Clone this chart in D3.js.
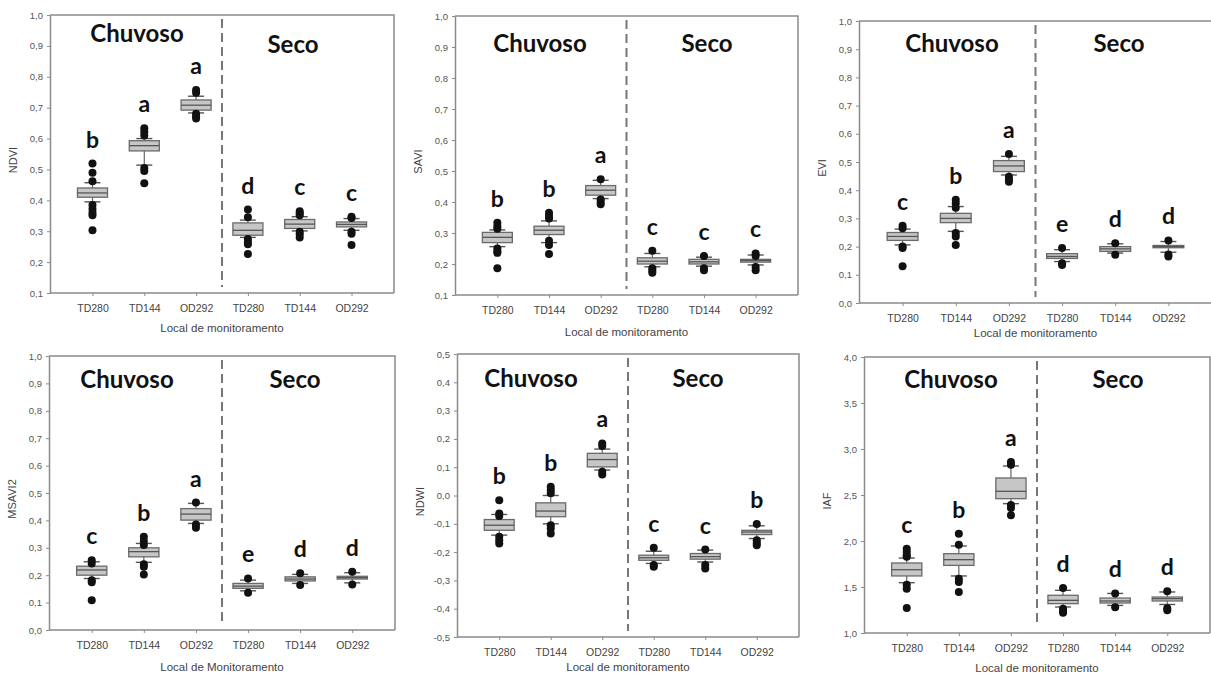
<!DOCTYPE html>
<html>
<head>
<meta charset="utf-8">
<script src="https://cdn.jsdelivr.net/npm/d3@7"></script>
<style>
  html, body { margin: 0; padding: 0; background: #fff; }
  svg { display: block; }
</style>
</head>
<body>
<svg id="chart" width="1211" height="675"></svg>
<script>
// Monitoring sites, repeated for the rainy (Chuvoso) and dry (Seco) season
const sites = ["TD280", "TD144", "OD292", "TD280", "TD144", "OD292"];
const seasons = ["Chuvoso", "Seco"];

// Box statistics per site: [lower whisker, Q1, median, Q3, upper whisker]
const ndviStats = [
  [0.395, 0.410, 0.424, 0.440, 0.457],
  [0.514, 0.560, 0.577, 0.593, 0.600],
  [0.683, 0.692, 0.708, 0.725, 0.737],
  [0.280, 0.287, 0.303, 0.327, 0.336],
  [0.301, 0.309, 0.323, 0.338, 0.347],
  [0.303, 0.314, 0.322, 0.330, 0.341]
];
const ndviOutliers = [
  [0.519, 0.489, 0.462, 0.385, 0.372, 0.360, 0.352, 0.303],
  [0.633, 0.622, 0.610, 0.505, 0.495, 0.455],
  [0.757, 0.748, 0.680, 0.672, 0.665],
  [0.370, 0.345, 0.275, 0.265, 0.258, 0.226],
  [0.365, 0.358, 0.352, 0.298, 0.290, 0.280],
  [0.347, 0.343, 0.298, 0.292, 0.255]
];
const ndviLetters = ["b", "a", "a", "d", "c", "c"];

const saviStats = [
  [0.256, 0.269, 0.286, 0.302, 0.310],
  [0.269, 0.295, 0.309, 0.322, 0.339],
  [0.411, 0.422, 0.438, 0.453, 0.470],
  [0.191, 0.200, 0.209, 0.220, 0.234],
  [0.193, 0.200, 0.207, 0.215, 0.222],
  [0.197, 0.206, 0.211, 0.215, 0.229]
];
const saviOutliers = [
  [0.333, 0.322, 0.314, 0.250, 0.240, 0.236, 0.186],
  [0.365, 0.355, 0.347, 0.275, 0.261, 0.232],
  [0.473, 0.408, 0.400, 0.393],
  [0.243, 0.186, 0.178, 0.172],
  [0.226, 0.186, 0.180],
  [0.234, 0.226, 0.190, 0.180]
];
const saviLetters = ["b", "b", "a", "c", "c", "c"];

const eviStats = [
  [0.206, 0.222, 0.236, 0.250, 0.262],
  [0.254, 0.285, 0.300, 0.318, 0.342],
  [0.454, 0.466, 0.486, 0.505, 0.520],
  [0.147, 0.158, 0.165, 0.175, 0.189],
  [0.177, 0.183, 0.192, 0.200, 0.210],
  [0.180, 0.196, 0.200, 0.204, 0.218]
];
const eviOutliers = [
  [0.274, 0.265, 0.200, 0.195, 0.130],
  [0.366, 0.354, 0.338, 0.248, 0.236, 0.206],
  [0.528, 0.448, 0.438, 0.430],
  [0.195, 0.141, 0.135],
  [0.212, 0.171],
  [0.222, 0.172, 0.165]
];
const eviLetters = ["c", "b", "a", "e", "d", "d"];

const msavi2Stats = [
  [0.188, 0.200, 0.219, 0.233, 0.249],
  [0.247, 0.267, 0.286, 0.300, 0.316],
  [0.389, 0.401, 0.423, 0.443, 0.462],
  [0.143, 0.152, 0.160, 0.170, 0.182],
  [0.170, 0.179, 0.186, 0.194, 0.203],
  [0.172, 0.186, 0.191, 0.196, 0.209]
];
const msavi2Outliers = [
  [0.255, 0.243, 0.182, 0.174, 0.109],
  [0.340, 0.325, 0.310, 0.240, 0.231, 0.203],
  [0.465, 0.385, 0.373],
  [0.188, 0.136],
  [0.207, 0.164],
  [0.213, 0.166]
];
const msavi2Letters = ["c", "b", "a", "e", "d", "d"];

const ndwiStats = [
  [-0.140, -0.123, -0.105, -0.085, -0.067],
  [-0.100, -0.075, -0.055, -0.026, 0.000],
  [0.090, 0.101, 0.127, 0.149, 0.164],
  [-0.240, -0.229, -0.220, -0.211, -0.197],
  [-0.235, -0.225, -0.216, -0.205, -0.193],
  [-0.152, -0.138, -0.129, -0.123, -0.107]
];
const ndwiOutliers = [
  [-0.017, -0.064, -0.072, -0.146, -0.158, -0.170],
  [0.031, 0.019, 0.008, -0.105, -0.117, -0.134],
  [0.184, 0.175, 0.084, 0.074],
  [-0.185, -0.246, -0.252],
  [-0.191, -0.246, -0.258],
  [-0.101, -0.158, -0.168, -0.176]
];
const ndwiLetters = ["b", "b", "a", "c", "c", "b"];

const iafStats = [
  [1.547, 1.620, 1.688, 1.761, 1.815],
  [1.620, 1.735, 1.797, 1.862, 1.946],
  [2.406, 2.460, 2.540, 2.685, 2.815],
  [1.283, 1.319, 1.355, 1.410, 1.464],
  [1.300, 1.326, 1.348, 1.380, 1.430],
  [1.310, 1.348, 1.373, 1.391, 1.446]
];
const iafOutliers = [
  [1.917, 1.880, 1.845, 1.830, 1.525, 1.480, 1.272],
  [2.080, 1.960, 1.590, 1.554, 1.446],
  [2.859, 2.830, 2.390, 2.360, 2.280],
  [1.489, 1.264, 1.240, 1.220],
  [1.430, 1.280],
  [1.453, 1.270, 1.246]
];
const iafLetters = ["c", "b", "a", "d", "d", "d"];

// Y-axis tick values
const ticks01to10 = [0.1, 0.2, 0.3, 0.4, 0.5, 0.6, 0.7, 0.8, 0.9, 1.0];
const ticks00to10 = [0.0, 0.1, 0.2, 0.3, 0.4, 0.5, 0.6, 0.7, 0.8, 0.9, 1.0];
const ticksNdwi = [-0.5, -0.4, -0.3, -0.2, -0.1, 0.0, 0.1, 0.2, 0.3, 0.4, 0.5];
const ticksIaf = [1.0, 1.5, 2.0, 2.5, 3.0, 3.5, 4.0];

// Panel layout (frame in pixels) and which data each panel shows
const panels = [
  { name: "NDVI", stats: ndviStats, outliers: ndviOutliers, letters: ndviLetters, ticks: ticks01to10,
    left: 50, right: 394, top: 15, bottom: 293, xTitle: "Local de monitoramento", xTitleGap: 39,
    chuvX: 87, secoX: 243, chuvY: 27, secoY: 38 },
  { name: "SAVI", stats: saviStats, outliers: saviOutliers, letters: saviLetters, ticks: ticks01to10,
    left: 455, right: 798, top: 16, bottom: 295, xTitle: "Local de monitoramento", xTitleGap: 41,
    chuvX: 85, secoX: 252, chuvY: 36, secoY: 36 },
  { name: "EVI", stats: eviStats, outliers: eviOutliers, letters: eviLetters, ticks: ticks00to10,
    left: 859, right: 1212, top: 21, bottom: 303, xTitle: "Local de monitoramento", xTitleGap: 34,
    chuvX: 93, secoX: 260, chuvY: 31, secoY: 31 },
  { name: "MSAVI2", stats: msavi2Stats, outliers: msavi2Outliers, letters: msavi2Letters, ticks: ticks00to10,
    left: 49, right: 395, top: 356, bottom: 630, xTitle: "Local de Monitoramento", xTitleGap: 41,
    chuvX: 78, secoX: 246, chuvY: 32, secoY: 32 },
  { name: "NDWI", stats: ndwiStats, outliers: ndwiOutliers, letters: ndwiLetters, ticks: ticksNdwi,
    left: 457, right: 799, top: 354, bottom: 637, xTitle: "Local de monitoramento", xTitleGap: 34,
    chuvX: 74, secoX: 241, chuvY: 33, secoY: 33 },
  { name: "IAF", stats: iafStats, outliers: iafOutliers, letters: iafLetters, ticks: ticksIaf,
    left: 864, right: 1210, top: 357, bottom: 633, xTitle: "Local de monitoramento", xTitleGap: 39,
    chuvX: 87, secoX: 254, chuvY: 31, secoY: 31 }
];

const locale = d3.formatLocale({ decimal: ",", thousands: ".", grouping: [3], currency: ["", ""], minus: "-" });
const fmt = locale.format(".1f");

const svg = d3.select("#chart");
const axisFont = "'Liberation Sans', Arial, sans-serif";
const boldFont = "Lato, 'Open Sans', sans-serif";
const frameColor = "#8a8a8a";

panels.forEach(p => {
  const g = svg.append("g");
  const idx = d3.range(sites.length);

  const x = d3.scalePoint().domain(idx).range([p.left, p.right]).padding(0.82);
  const y = d3.scaleLinear().domain(d3.extent(p.ticks)).range([p.bottom, p.top]);
  const step = x.step();
  const boxW = step * 0.58;
  const capW = 16;

  // Frame (top & right borders)
  g.append("path")
    .attr("d", `M${p.left},${p.top}H${p.right}V${p.bottom}`)
    .attr("fill", "none").attr("stroke", frameColor).attr("stroke-width", 1.5);

  // Y axis
  const yAxis = g.append("g")
    .attr("transform", `translate(${p.left},0)`)
    .call(d3.axisLeft(y).tickValues(p.ticks).tickFormat(fmt).tickSize(3).tickSizeOuter(0).tickPadding(4));
  yAxis.select(".domain").attr("stroke", frameColor).attr("stroke-width", 1.5);
  yAxis.selectAll(".tick line").attr("stroke", frameColor);
  yAxis.selectAll(".tick text").attr("fill", "#555").style("font-family", axisFont).style("font-size", "9.5px");

  // X axis
  const xAxis = g.append("g")
    .attr("transform", `translate(0,${p.bottom})`)
    .call(d3.axisBottom(x).tickFormat(i => sites[i]).tickSize(3).tickSizeOuter(0).tickPadding(9));
  xAxis.select(".domain").attr("stroke", frameColor).attr("stroke-width", 1.5)
    .attr("d", `M${p.left},0H${p.right}`);
  xAxis.selectAll(".tick line").attr("stroke", frameColor);
  xAxis.selectAll(".tick text").attr("fill", "#444").style("font-family", axisFont).style("font-size", "10.5px");

  // Axis titles
  g.append("text")
    .attr("transform", `translate(${p.left - 33},${(p.top + p.bottom) / 2 + 6}) rotate(-90)`)
    .attr("text-anchor", "middle")
    .attr("fill", "#444").style("font-family", axisFont).style("font-size", "11px")
    .text(p.name);
  g.append("text")
    .attr("x", (p.left + p.right) / 2).attr("y", p.bottom + p.xTitleGap)
    .attr("text-anchor", "middle")
    .attr("fill", "#444").style("font-family", axisFont).style("font-size", "11.5px")
    .text(p.xTitle);

  // Season divider (dashed)
  const divX = (x(2) + x(3)) / 2;
  g.append("line")
    .attr("x1", divX).attr("x2", divX)
    .attr("y1", p.top + 4).attr("y2", p.bottom - 6)
    .attr("stroke", "#777").attr("stroke-width", 2).attr("stroke-dasharray", "9,5");

  // Season headings
  g.append("text")
    .attr("x", p.left + p.chuvX).attr("y", p.top + p.chuvY)
    .attr("text-anchor", "middle").attr("fill", "#111")
    .style("font-family", boldFont).style("font-weight", 700).style("font-size", "24px")
    .text(seasons[0]);
  g.append("text")
    .attr("x", p.left + p.secoX).attr("y", p.top + p.secoY)
    .attr("text-anchor", "middle").attr("fill", "#111")
    .style("font-family", boldFont).style("font-weight", 700).style("font-size", "24px")
    .text(seasons[1]);

  // Boxes
  const boxes = g.selectAll(".box").data(idx).join("g").attr("class", "box");

  boxes.append("line") // whisker
    .attr("x1", i => x(i)).attr("x2", i => x(i))
    .attr("y1", i => y(p.stats[i][0])).attr("y2", i => y(p.stats[i][4]))
    .attr("stroke", "#666").attr("stroke-width", 1.2);
  boxes.append("line") // lower cap
    .attr("x1", i => x(i) - capW / 2).attr("x2", i => x(i) + capW / 2)
    .attr("y1", i => y(p.stats[i][0])).attr("y2", i => y(p.stats[i][0]))
    .attr("stroke", "#555").attr("stroke-width", 1.4);
  boxes.append("line") // upper cap
    .attr("x1", i => x(i) - capW / 2).attr("x2", i => x(i) + capW / 2)
    .attr("y1", i => y(p.stats[i][4])).attr("y2", i => y(p.stats[i][4]))
    .attr("stroke", "#555").attr("stroke-width", 1.4);
  boxes.append("rect")
    .attr("x", i => x(i) - boxW / 2).attr("width", boxW)
    .attr("y", i => y(p.stats[i][3]))
    .attr("height", i => Math.max(1, y(p.stats[i][1]) - y(p.stats[i][3])))
    .attr("fill", "#c6c6c6").attr("stroke", "#6a6a6a").attr("stroke-width", 1.3);
  boxes.append("line") // median
    .attr("x1", i => x(i) - boxW / 2).attr("x2", i => x(i) + boxW / 2)
    .attr("y1", i => y(p.stats[i][2])).attr("y2", i => y(p.stats[i][2]))
    .attr("stroke", "#555").attr("stroke-width", 1.3);

  // Outlying observations
  boxes.each(function (i) {
    d3.select(this).selectAll("circle").data(p.outliers[i]).join("circle")
      .attr("cx", x(i)).attr("cy", v => y(v)).attr("r", 4)
      .attr("fill", "#111");
  });

  // Significance letters above each group
  boxes.append("text")
    .attr("x", i => x(i))
    .attr("y", i => y(d3.max([p.stats[i][4], ...p.outliers[i]])) - 16)
    .attr("text-anchor", "middle").attr("fill", "#111")
    .style("font-family", boldFont).style("font-weight", 700).style("font-size", "23px")
    .text(i => p.letters[i]);
});
</script>
</body>
</html>
